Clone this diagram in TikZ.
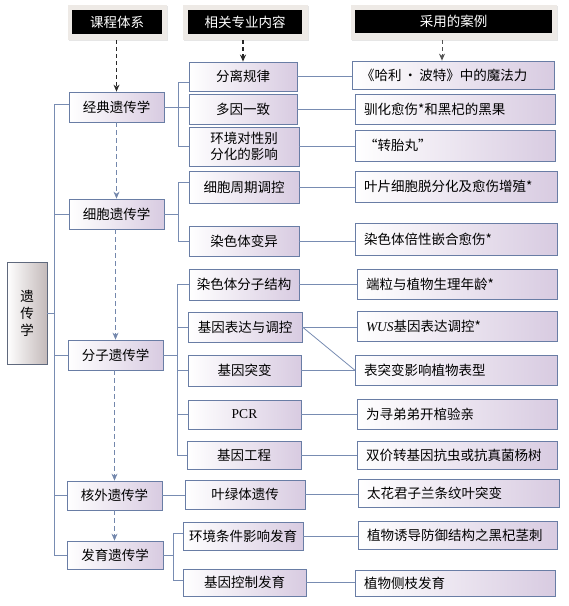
\documentclass[tikz,border=0pt]{standalone}
\usepackage{fontspec}
\setmainfont{Noto Sans CJK SC}
\newfontfamily\lat{Liberation Serif}
\usetikzlibrary{arrows.meta,shadows}
\definecolor{edgeblue}{RGB}{105,125,165}
\definecolor{linec}{RGB}{120,140,178}
\definecolor{boxr}{RGB}{216,203,225}
\definecolor{arrowlight}{RGB}{115,135,172}
\definecolor{framec}{RGB}{238,234,230}
\definecolor{rootr}{RGB}{196,186,186}
\definecolor{rootedge}{RGB}{95,105,125}
\definecolor{darkarrow}{RGB}{40,40,40}
\begin{document}
\begin{tikzpicture}[x=1pt,y=-1pt,
  every node/.style={font=\fontsize{13.5}{16}\selectfont},
  box/.style={draw=edgeblue, line width=0.8pt, left color=white, right color=boxr,
    inner sep=0pt, align=center,
    drop shadow={shadow xshift=1pt,shadow yshift=-1pt,opacity=0.25,fill=gray}},
  casebox/.style={box, inner xsep=9pt, text width=#1, align=left},
  casebox/.default=182pt,
  rootbox/.style={draw=rootedge, line width=0.8pt, left color=white, right color=rootr,
    inner sep=0pt, align=center, font=\fontsize{13.5}{17}\selectfont},
  hframe/.style={fill=framec, draw=none, inner sep=0pt,
    drop shadow={shadow xshift=1pt,shadow yshift=-1pt,opacity=0.2,fill=gray}},
  hbox/.style={fill=black, text=white, inner sep=0pt},
  conn/.style={draw=linec, line width=0.8pt},
  harrow/.style={draw=darkarrow, line width=1.1pt, dashed, dash pattern=on 4pt off 3pt,
    -{Stealth[length=7pt,width=6pt]}},
  larrow/.style={draw=arrowlight, line width=0.9pt, dash pattern=on 5pt off 3pt,
    -{Stealth[length=7pt,width=6pt]}}
]
\useasboundingbox (0,0) rectangle (569,606);

% headers
\node[hframe, minimum width=99pt, minimum height=35pt] (f1) at (117.5,22.5) {};
\node[hbox, minimum width=90pt, minimum height=24pt] (h1) at (117,22) {课程体系};
\node[hframe, minimum width=125pt, minimum height=35pt] (f2) at (245.5,22.5) {};
\node[hbox, minimum width=114pt, minimum height=24pt] (h2) at (245,22) {相关专业内容};
\node[hframe, minimum width=206pt, minimum height=35pt] (f3) at (454,22.5) {};
\node[hbox, minimum width=197pt, minimum height=23pt] (h3) at (453.5,21.5) {采用的案例};

% root
\node[rootbox, minimum width=40pt, minimum height=102pt] (yc) at (27,313) {遗\\传\\学};

% course column
\node[box, minimum width=95pt, minimum height=30pt] (jd) at (116.5,107) {经典遗传学};
\node[box, minimum width=95pt, minimum height=30pt] (xb) at (116.5,214) {细胞遗传学};
\node[box, minimum width=95pt, minimum height=30pt] (fz) at (115.5,355) {分子遗传学};
\node[box, minimum width=95pt, minimum height=29pt] (hw) at (114.5,495.5) {核外遗传学};
\node[box, minimum width=96pt, minimum height=28pt] (fy) at (115,555) {发育遗传学};

% content column
\node[box, minimum width=108pt, minimum height=29pt] (fl) at (243,76.5) {分离规律};
\node[box, minimum width=108pt, minimum height=30pt] (dy) at (243,109) {多因一致};
\node[box, minimum width=110pt, minimum height=39pt] (hj) at (244,146.5) {环境对性别\\分化的影响};
\node[box, minimum width=110pt, minimum height=32pt] (xz) at (244,187) {细胞周期调控};
\node[box, minimum width=110pt, minimum height=30pt] (rb) at (244,241) {染色体变异};
\node[box, minimum width=110pt, minimum height=31pt] (rf) at (244,284.5) {染色体分子结构};
\node[box, minimum width=114pt, minimum height=30pt] (jb) at (245,327) {基因表达与调控};
\node[box, minimum width=113pt, minimum height=31pt] (jt) at (244.5,370.5) {基因突变};
\node[box, minimum width=113pt, minimum height=29pt] (pcr) at (244.5,414.5) {{\lat PCR}};
\node[box, minimum width=114pt, minimum height=28pt] (gc) at (244,455) {基因工程};
\node[box, minimum width=120pt, minimum height=29pt] (ylt) at (245,494.5) {叶绿体遗传};
\node[box, minimum width=120pt, minimum height=28pt] (hjt) at (243,536) {环境条件影响发育};
\node[box, minimum width=123pt, minimum height=27pt] (jk) at (244.5,582.5) {基因控制发育};

% case column
\node[casebox=184pt, minimum height=28pt] (c1) at (453,75) {《哈利\,·\,波特》中的魔法力};
\node[casebox, minimum height=30pt] (c2) at (455,109) {驯化愈伤*和黑杞的黑果};
\node[casebox, minimum height=31pt] (c3) at (455,145.5) {“转胎丸”};
\node[casebox=184pt, minimum height=31pt] (c4) at (456,186.5) {叶片细胞脱分化及愈伤增殖*};
\node[casebox=184pt, minimum height=32pt] (c5) at (456,239) {染色体倍性嵌合愈伤*};
\node[casebox, minimum height=30pt] (c6) at (457,284) {端粒与植物生理年龄*};
\node[casebox, minimum height=30pt] (c7) at (457,326) {{\lat\itshape WUS}基因表达调控*};
\node[casebox=184pt, minimum height=30pt] (c8) at (456,370) {表突变影响植物表型};
\node[casebox, minimum height=30pt] (c9) at (457,414) {为寻弟弟开棺验亲};
\node[casebox, minimum height=28pt] (c10) at (457,455) {双价转基因抗虫或抗真菌杨树};
\node[casebox=183pt, minimum height=28pt] (c11) at (458.5,493) {太花君子兰条纹叶突变};
\node[casebox=181pt, minimum height=28pt] (c12) at (457.5,535) {植物诱导防御结构之黑杞茎刺};
\node[casebox, minimum height=26pt] (c13) at (455,583) {植物侧枝发育};

% header arrows
\draw[harrow] (f1.south -| jd.north) -- (jd.north);
\draw[harrow, line width=1.8pt] (fl.north |- f2.south) -- (fl.north);
\coordinate (a3) at ([xshift=-11pt]c1.north);
\draw[harrow, line width=0.9pt, draw=darkarrow!80] (a3 |- f3.south) -- (a3);

% course flow arrows
\draw[larrow] (jd.south) -- (jd.south |- xb.north);
\draw[larrow] (xb.south -| fz.north) -- (fz.north);
\draw[larrow] (fz.south -| hw.north) -- (hw.north);
\draw[larrow] (hw.south) -- (hw.south |- fy.north);

% bus
\coordinate (bus) at (54,0);
\draw[conn] ([yshift=3pt]jd.west) -- ([yshift=3pt]jd.west -| bus) -- (fy.west -| bus) -- (fy.west);
\draw[conn] (xb.west) -- (xb.west -| bus);
\draw[conn] (fz.west) -- (fz.west -| bus);
\draw[conn] (hw.west) -- (hw.west -| bus);
\draw[conn] (yc.east) -- (yc.east -| bus);

% bracket 1
\coordinate (b1) at (178,0);
\coordinate (flt) at ([yshift=-6pt]fl.west);
\draw[conn] (flt) -- (flt -| b1) -- (hj.west -| b1) -- (hj.west);
\draw[conn] (jd.east) -- (jd.east -| dy.west);

% bracket 2
\coordinate (xzt) at ([yshift=5pt]xz.west);
\draw[conn] (xzt) -- (xzt -| b1) -- (rb.west -| b1) -- (rb.west);
\draw[conn] (xb.east) -- (xb.east -| b1);

% bracket 3
\coordinate (b3) at (177,0);
\draw[conn] (rf.west) -- (rf.west -| b3) -- (gc.west -| b3) -- (gc.west);
\draw[conn] (jb.west) -- (jb.west -| b3);
\draw[conn] (jt.west) -- (jt.west -| b3);
\draw[conn] (pcr.west) -- (pcr.west -| b3);
\draw[conn] (fz.east) -- (fz.east -| b3);

% extranuclear
\draw[conn] (hw.east) -- (hw.east -| ylt.west);

% bracket 4
\coordinate (b4) at (173,0);
\coordinate (hjtt) at ([yshift=3pt]hjt.west);
\coordinate (jkt) at ([yshift=2pt]jk.west);
\draw[conn] (hjtt) -- (hjtt -| b4) -- (jkt -| b4) -- (jkt);
\draw[conn] (fy.east) -- (fy.east -| b4);

% content to cases
\draw[conn] (fl.east) -- (fl.east -| c1.west);
\draw[conn] (dy.east) -- (dy.east -| c2.west);
\draw[conn] (hj.east) -- (hj.east -| c3.west);
\draw[conn] (xz.east) -- (xz.east -| c4.west);
\draw[conn] (rb.east) -- (rb.east -| c5.west);
\draw[conn] (rf.east) -- (rf.east -| c6.west);
\draw[conn] (jb.east) -- (jb.east -| c7.west);
\draw[conn] (jb.east) -- (c8.west);
\draw[conn] (jt.east) -- (jt.east -| c8.west);
\draw[conn] (pcr.east) -- (pcr.east -| c9.west);
\draw[conn] (gc.east) -- (gc.east -| c10.west);
\draw[conn] (ylt.east) -- (ylt.east -| c11.west);
\draw[conn] (hjt.east) -- (hjt.east -| c12.west);
\draw[conn] (jk.east) -- (jk.east -| c13.west);
\end{tikzpicture}
\end{document}
